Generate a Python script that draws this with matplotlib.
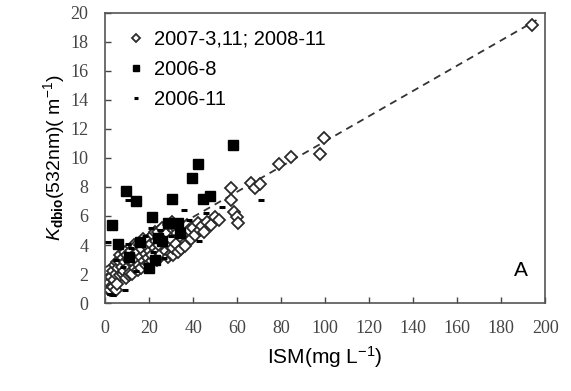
import numpy as np
import matplotlib.pyplot as plt

plt.rcParams['mathtext.fontset'] = 'custom'
plt.rcParams['mathtext.rm'] = 'Liberation Sans'
plt.rcParams['mathtext.it'] = 'Liberation Sans:italic'
plt.rcParams['mathtext.bf'] = 'Liberation Sans:bold'

# 2007-3,11; 2008-11 (hollow diamonds)
dia_x = [1.0, 1.5, 2.0, 2.2, 2.5, 3.0, 3.5, 3.8, 4.0, 4.5, 5.0, 5.0, 5.2, 5.5, 6.0, 6.5, 6.8,
         7.0, 7.5, 8.0, 8.2, 8.5, 9.0, 9.2, 9.5, 10.0, 10.5, 10.8, 11.0, 11.5, 12.0, 12.2,
         12.5, 13.0, 13.2, 13.5, 14.0, 14.5, 14.8, 15.0, 15.5, 16.0, 16.2, 16.5, 17.0, 17.2,
         17.5, 18.0, 18.5, 18.8, 19.0, 19.5, 19.8, 20.0, 20.5, 21.0, 21.2, 21.5, 22.0, 22.5,
         22.8, 23.0, 23.5, 24.0, 24.2, 24.5, 25.0, 25.5, 26.0, 26.5, 27.0, 27.5, 28.0, 28.5,
         29.0, 29.5, 30.0, 30.0, 30.5, 31.0, 31.0, 31.5, 32.0, 32.0, 32.5, 33.0, 33.5, 34.0,
         34.5, 35.0, 36.0, 36.5, 37.0, 38.0, 39.0, 40.0, 41.0, 42.0, 43.0, 44.0, 45.0, 46.5,
         48.0, 50.0, 51.6, 57.0, 57.0, 58.4, 60.0, 60.5, 66.5, 68.3, 70.6, 79.0, 84.5, 97.7,
         99.5, 194.0]
dia_y = [1.6, 1.0, 1.4, 0.9, 1.8, 1.2, 2.2, 1.1, 1.6, 2.6, 2.0, 0.9, 2.8, 1.3, 2.4, 2.9, 3.3,
         1.9, 2.5, 3.1, 2.0, 2.2, 2.8, 3.5, 1.7, 3.3, 2.5, 1.9, 3.0, 2.1, 3.6, 2.0,
         2.8, 3.3, 4.0, 2.4, 3.9, 3.0, 2.3, 3.5, 2.6, 4.0, 2.4, 3.2, 3.7, 4.4,
         2.9, 4.2, 3.4, 2.6, 3.9, 3.1, 2.7, 4.4, 3.6, 4.1, 2.9, 3.3, 4.7, 3.8,
         4.9, 4.3, 3.0, 4.9, 3.6, 4.0, 4.5, 3.4, 5.2, 4.6, 4.2, 3.6, 4.8, 3.2,
         5.4, 3.9, 4.4, 3.4, 5.6, 3.3, 3.8, 5.0, 4.1, 5.2, 4.8, 3.5, 5.3, 4.6,
         3.7, 5.1, 4.8, 3.9, 5.4, 5.0, 4.4, 5.2, 4.7, 5.5, 5.0, 5.3, 4.9, 5.6,
         5.4, 5.9, 5.7, 7.9, 7.1, 6.3, 5.9, 5.5, 8.3, 7.9, 8.2, 9.6, 10.1, 10.3,
         11.4, 19.2]

# 2006-8 (filled squares)
sq_x = [3.2, 9.5, 14.0, 21.3, 30.5, 28.5, 33.0, 39.5, 42.0, 44.3, 47.5, 58.3, 6.0, 20.0,
        22.5, 24.0, 26.0, 16.0, 11.0, 34.0]
sq_y = [5.4, 7.7, 7.0, 5.9, 7.2, 5.5, 5.5, 8.6, 9.6, 7.2, 7.4, 10.9, 4.1, 2.4,
        3.0, 4.5, 4.3, 4.2, 3.2, 4.8]

# 2006-11 (dashes)
ds_x = [10.4, 10.4, 1.4, 20.8, 36.0, 42.5, 2.2, 9.0, 71.0, 3.6, 5.0, 12.0, 18.0, 25.0,
        30.0, 38.0, 27.0, 8.0, 14.0, 22.0, 46.0, 53.0]
ds_y = [7.1, 4.1, 4.2, 5.2, 6.4, 4.3, 0.6, 0.9, 7.1, 0.55, 3.0, 3.8, 4.6, 5.0,
        4.6, 5.7, 3.1, 2.5, 2.2, 3.5, 6.2, 6.6]

# regression line
fit_x = [0, 196]
fit_slope = 0.087
fit_icpt = 2.45

fig = plt.figure(figsize=(5.71, 3.91), dpi=100)
ax = fig.add_axes([0.184, 0.225, 0.771, 0.742])

ax.plot(fit_x, [fit_icpt + fit_slope * v for v in fit_x], color='#333333',
        ls=(0, (4, 3)), lw=1.3, zorder=1)
ax.plot(dia_x, dia_y, 'D', ms=6.2, mfc='white', mec='#2a2a2a', mew=1.3, ls='none',
        label='2007-3,11; 2008-11', zorder=2)
ax.plot(sq_x, sq_y, 's', ms=6.5, color='black', ls='none', label='2006-8', zorder=3)
ax.plot(ds_x, ds_y, '_', ms=5, mew=2.2, color='black', ls='none', label='2006-11', zorder=3)

ax.set_xlim(0, 200)
ax.set_ylim(0, 20)
ax.set_xticks(np.arange(0, 201, 20))
ax.set_yticks(np.arange(0, 21, 2))
ax.tick_params(direction='in', length=4, width=1, top=False, right=False,
               labelsize=13, colors='#444444')
ax.tick_params(axis='x', pad=12)
ax.tick_params(axis='y', pad=12)
for lab in ax.get_xticklabels() + ax.get_yticklabels():
    lab.set_family('Liberation Serif')
for s in ax.spines.values():
    s.set_color('#555555')
    s.set_linewidth(1.2)

ax.set_xlabel(r'ISM(mg L$^{\mathrm{-1}}$)', fontsize=15, family='Liberation Sans', labelpad=5)
ax.set_ylabel(r'$\mathit{K}_{\mathbf{dbio}}$(532nm)( m$^{\mathrm{-1}}$)', fontsize=14,
              family='Liberation Sans', labelpad=2)

leg = ax.legend(loc='upper left', frameon=False, prop={'family': 'Liberation Sans', 'size': 14.5},
                markerscale=0.6, handlelength=0.8, handletextpad=0.5, labelspacing=0.55,
                borderaxespad=0.3, bbox_to_anchor=(0.02, 0.99))

ax.text(0.96, 0.08, 'A', transform=ax.transAxes, fontsize=15, family='Liberation Sans',
        ha='right', va='bottom')

fig.savefig('out.png', dpi=100)
